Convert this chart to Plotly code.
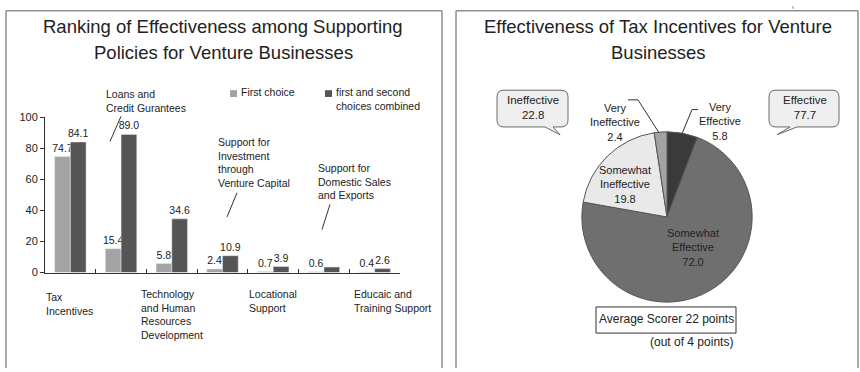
import plotly.graph_objects as go

# ---- data -------------------------------------------------------------
categories = [
    "Tax Incentives",
    "Loans and Credit Gurantees",
    "Technology and Human Resources Development",
    "Support for Investment through Venture Capital",
    "Locational Support",
    "Support for Domestic Sales and Exports",
    "Educaic and Training Support",
]
first_choice = [74.7, 15.4, 5.8, 2.4, 0.7, 0.6, 0.4]
combined_choice = [84.1, 89.0, 34.6, 10.9, 3.9, 3.6, 2.6]
first_labels = ["74.7", "15.4", "5.8", "2.4", "0.7", "0.6", "0.4"]
combined_labels = ["84.1", "89.0", "34.6", "10.9", "3.9", "", "2.6"]
y_ticks = [0, 20, 40, 60, 80, 100]

pie_labels = ["Very Effective", "Somewhat Effective", "Somewhat Ineffective", "Very Ineffective"]
pie_values = [5.8, 72.0, 19.8, 2.4]
pie_colors = ["#3a3a3a", "#6f6f6f", "#e9e9e9", "#a3a3a3"]

W, H = 860, 372
SANS = "Liberation Sans, Arial, sans-serif"
INK = "#222222"


def px(x):
    return x / W


def py(y):
    return 1 - y / H


fig = go.Figure()

# ---- bar chart ---------------------------------------------------------
for vals, labels, color in [(first_choice, first_labels, "#a3a3a3"),
                            (combined_choice, combined_labels, "#555555")]:
    fig.add_trace(go.Bar(
        x=categories, y=vals, marker_color=color,
        text=labels, textposition="outside", cliponaxis=False, constraintext="none",
        textfont=dict(family=SANS, size=10.5, color=INK), showlegend=False,
    ))

# ---- pie chart ---------------------------------------------------------
fig.add_trace(go.Pie(
    labels=pie_labels, values=pie_values, sort=False, direction="clockwise",
    rotation=0, textinfo="none", hoverinfo="label+value",
    marker=dict(colors=pie_colors, line=dict(color="#555555", width=1)),
    domain=dict(x=[px(578), px(756)], y=[py(306), py(130)]),
    showlegend=False,
))

ann = []
shapes = []


def text_block(lines, x, y0, size=11, xanchor="left", align="left"):
    """Multi-line text whose first line is centred vertically on y0 (pixels)."""
    ann.append(dict(text="<br>".join(lines), x=px(x), y=py(y0 - 0.65 * 1.3 * size), xref="paper",
                    yref="paper", xanchor=xanchor, yanchor="top", showarrow=False, align=align,
                    borderpad=0, font=dict(family=SANS, size=size, color=INK)))


def seg(x0, y0, x1, y1, color="#333333", width=1):
    shapes.append(dict(type="line", xref="paper", yref="paper",
                       x0=px(x0), y0=py(y0), x1=px(x1), y1=py(y1),
                       line=dict(color=color, width=width)))


# panel frames
for x0, x1 in [(6, 442), (456, 858)]:
    seg(x0, 5, x1, 5, "#909090", 1.5)
    seg(x0, 5, x0, H + 2, "#909090", 1.5)
    seg(x1, 5, x1, H + 2, "#909090", 1.5)
seg(793, 0, 793, 3, "#909090", 1)

# titles
for i, t in enumerate(["Ranking of Effectiveness among Supporting", "Policies for Venture Businesses"]):
    text_block([t], 223, 25 + 27 * i, size=18.5, xanchor="center", align="center")
for i, t in enumerate(["Effectiveness of Tax Incentives for Venture", "Businesses"]):
    text_block([t], 658, 25 + 27 * i, size=18.5, xanchor="center", align="center")

# legend
shapes.append(dict(type="rect", xref="paper", yref="paper", x0=px(230), x1=px(237),
                   y0=py(87), y1=py(94), fillcolor="#a3a3a3", line=dict(width=0)))
shapes.append(dict(type="rect", xref="paper", yref="paper", x0=px(325), x1=px(332),
                   y0=py(87), y1=py(94), fillcolor="#555555", line=dict(width=0)))
text_block(["First choice"], 240, 91, size=10.5)
text_block(["first and second", "choices combined"], 335, 91, size=10.5)

# category labels below the axis
text_block(["Tax", "Incentives"], 45, 302, size=10.5)
text_block(["Technology", "and Human", "Resources", "Development"], 140, 299, size=10.5)
text_block(["Locational", "Support"], 248, 299, size=10.5)
text_block(["Educaic and", "Training Support"], 353, 299, size=10.5)

# category labels above the bars, with leader strokes
text_block(["Loans and", "Credit Gurantees"], 105, 93, size=10.5)
seg(121, 114, 110, 140)
text_block(["Support for", "Investment", "through", "Venture Capital"], 217, 142, size=10.5)
seg(237, 193, 227, 218)
text_block(["Support for", "Domestic Sales", "and Exports"], 317, 169, size=10.5)
seg(330, 205, 322, 231)

# pie slice labels
text_block(["Somewhat", "Ineffective", "19.8"], 625, 172, size=11, xanchor="center", align="center")
text_block(["Somewhat", "Effective", "72.0"], 693, 237, size=11, xanchor="center", align="center")
text_block(["Very", "Ineffective", "2.4"], 615, 107, size=11, xanchor="center", align="center")
text_block(["Very", "Effective", "5.8"], 720, 106, size=11, xanchor="center", align="center")
shapes.append(dict(type="path", xref="paper", yref="paper",
                   path=f"M{px(628)},{py(97)} L{px(638)},{py(97)} L{px(659)},{py(131)}",
                   line=dict(color="#333333", width=1)))
shapes.append(dict(type="path", xref="paper", yref="paper",
                   path=f"M{px(698)},{py(107)} L{px(692)},{py(107)} L{px(682)},{py(132)}",
                   line=dict(color="#333333", width=1)))


def callout(x0, y0, x1, y1, r, ta, tb, tip):
    pts = [
        ("M", x0 + r, y0), ("L", x1 - r, y0), ("Q", x1, y0, x1, y0 + r),
        ("L", x1, y1 - r), ("Q", x1, y1, x1 - r, y1), ("L", tb, y1),
        ("L", tip[0], tip[1]), ("L", ta, y1), ("L", x0 + r, y1),
        ("Q", x0, y1, x0, y1 - r), ("L", x0, y0 + r), ("Q", x0, y0, x0 + r, y0),
    ]
    parts = []
    for p in pts:
        coords = p[1:]
        xy = " ".join(f"{px(coords[i])},{py(coords[i + 1])}" for i in range(0, len(coords), 2))
        parts.append(f"{p[0]}{xy}")
    shapes.append(dict(type="path", xref="paper", yref="paper", path=" ".join(parts) + " Z",
                       fillcolor="#efefef", line=dict(color="#6a6a6a", width=1), layer="below"))


callout(497, 87, 568, 125, 7, 545, 553, (560, 133))
text_block(["Ineffective", "22.8"], 533, 100, size=11.5, xanchor="center", align="center")
callout(769, 87, 839, 125, 7, 790, 797, (777, 133))
text_block(["Effective", "77.7"], 805, 100, size=11.5, xanchor="center", align="center")

# average score box
shapes.append(dict(type="rect", xref="paper", yref="paper", x0=px(596), x1=px(736),
                   y0=py(311), y1=py(338), line=dict(color="#333333", width=1)))
text_block(["Average Scorer 22 points"], 666, 325, size=12, xanchor="center")
text_block(["(out of 4 points)"], 734, 349, size=12, xanchor="right")

fig.update_layout(
    width=W, height=H, margin=dict(l=0, r=0, t=0, b=0),
    paper_bgcolor="white", plot_bgcolor="white",
    barmode="group", bargap=0.38, bargroupgap=0,
    annotations=ann, shapes=shapes,
    xaxis=dict(domain=[px(45), px(400)], showticklabels=False, ticks="inside",
               tickson="boundaries", ticklen=4, tickcolor="#333333",
               showline=True, linecolor="#333333", linewidth=1, showgrid=False,
               zeroline=False, fixedrange=True),
    yaxis=dict(domain=[py(275.5), py(115)], range=[0, 100], tickvals=y_ticks,
               ticks="outside", ticklen=4, tickcolor="#333333",
               showline=True, linecolor="#333333", linewidth=1, showgrid=False,
               zeroline=False, tickfont=dict(family=SANS, size=11, color=INK),
               fixedrange=True),
)

fig.write_html("out.html")
